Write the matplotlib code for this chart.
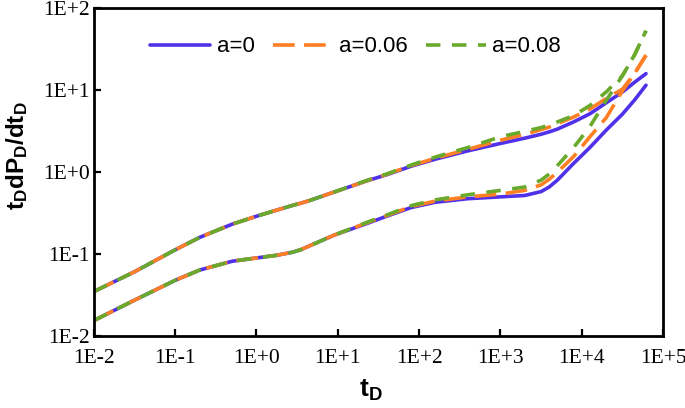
import matplotlib
matplotlib.use("Agg")
import matplotlib.pyplot as plt
import numpy as np
from matplotlib.ticker import FixedLocator, FuncFormatter, NullLocator

# ---- data ----
log_t = [-2, -1.5, -1, -0.7, -0.3, 0, 0.25, 0.45, 0.55, 0.65, 0.95, 1.35, 1.6, 1.9, 2.2, 2.6,
         3.0, 3.3, 3.5, 3.6, 3.7, 3.9, 4.1, 4.3, 4.5, 4.65, 4.79]

upper_a0 = [0.035, 0.061, 0.113, 0.16, 0.232, 0.29, 0.345, 0.395, 0.42, 0.45, 0.57, 0.78, 0.93, 1.18, 1.44, 1.82,
            2.24, 2.6, 2.9, 3.1, 3.35, 4.1, 5.15, 7.0, 9.5, 12.5, 15.9]
upper_a006 = [0.035, 0.061, 0.113, 0.16, 0.232, 0.29, 0.345, 0.395, 0.42, 0.45, 0.57, 0.78, 0.94, 1.2, 1.48, 1.9,
              2.45, 2.9, 3.3, 3.55, 3.9, 4.7, 5.9, 7.9, 10.3, 16.0, 26.7]
upper_a008 = [0.035, 0.061, 0.113, 0.16, 0.232, 0.29, 0.345, 0.395, 0.42, 0.45, 0.57, 0.79, 0.95, 1.22, 1.53, 2.0,
              2.7, 3.15, 3.5, 3.75, 4.1, 4.9, 6.5, 9.5, 15.0, 27.0, 53.0]

lower_a0 = [0.0155, 0.0275, 0.048, 0.064, 0.082, 0.09, 0.097, 0.106, 0.114, 0.126, 0.17, 0.235, 0.29, 0.37, 0.43, 0.475,
            0.50, 0.52, 0.58, 0.66, 0.80, 1.28, 2.0, 3.25, 5.1, 7.6, 11.5]
lower_a006 = [0.0155, 0.0275, 0.048, 0.064, 0.082, 0.09, 0.097, 0.106, 0.114, 0.126, 0.17, 0.24, 0.295, 0.38, 0.445, 0.5,
              0.54, 0.6, 0.7, 0.82, 1.0, 1.55, 2.7, 4.6, 9.8, 16.0, 26.7]
lower_a008 = [0.0155, 0.0275, 0.048, 0.064, 0.082, 0.09, 0.097, 0.106, 0.114, 0.126, 0.17, 0.243, 0.30, 0.39, 0.46, 0.53,
              0.6, 0.66, 0.8, 0.95, 1.2, 2.0, 3.6, 7.5, 15.0, 27.0, 53.0]

labels = ["a=0", "a=0.06", "a=0.08"]
y_tick_exps = [-2, -1, 0, 1, 2]
x_tick_exps = [-2, -1, 0, 1, 2, 3, 4, 5]

# ---- styling ----
plt.rcParams["mathtext.fontset"] = "custom"
plt.rcParams["mathtext.bf"] = "Liberation Sans:bold"
plt.rcParams["mathtext.rm"] = "Liberation Sans:bold"
plt.rcParams["mathtext.it"] = "Liberation Sans:bold"
plt.rcParams["mathtext.default"] = "bf"

t = np.power(10.0, log_t)
c_blue = "#5030E8"
c_orange = "#FF8024"
c_green = "#69AA2C"

fig = plt.figure(figsize=(6.85, 4.08), dpi=100)
ax = fig.add_axes([0.137, 0.176, 0.831, 0.804])

lw = 2.6
l0, = ax.plot(t, upper_a0, color=c_blue, lw=lw, solid_capstyle="round")
ax.plot(t, lower_a0, color=c_blue, lw=lw, solid_capstyle="round")
l1, = ax.plot(t, upper_a006, color=c_orange, lw=lw, dashes=(6, 2.6))
ax.plot(t, lower_a006, color=c_orange, lw=lw, dashes=(6, 2.6))
l2, = ax.plot(t, upper_a008, color=c_green, lw=lw, dashes=(4, 3.2))
ax.plot(t, lower_a008, color=c_green, lw=lw, dashes=(4, 3.2))

ax.set_xscale("log")
ax.set_yscale("log")
ax.set_xlim(1e-2, 1e5)
ax.set_ylim(1e-2, 1e2)

ax.xaxis.set_major_locator(FixedLocator([10.0 ** e for e in x_tick_exps]))
ax.yaxis.set_major_locator(FixedLocator([10.0 ** e for e in y_tick_exps]))
ax.xaxis.set_minor_locator(NullLocator())
ax.yaxis.set_minor_locator(NullLocator())


def sci(v, p):
    e = int(round(np.log10(v)))
    return "1E+%d" % e if e >= 0 else "1E-%d" % abs(e)


fmt = FuncFormatter(sci)
ax.xaxis.set_major_formatter(fmt)
ax.yaxis.set_major_formatter(fmt)

ax.tick_params(axis="both", which="major", direction="in", length=5, width=1.6,
               labelsize=15.5, top=False, right=False)
for lab in ax.get_xticklabels() + ax.get_yticklabels():
    lab.set_fontfamily("Liberation Serif")
ax.tick_params(axis="x", pad=9)
ax.tick_params(axis="y", pad=3)

for s in ax.spines.values():
    s.set_linewidth(2.0)
    s.set_color("black")

ax.set_xlabel(r"$t_D$", fontsize=19)
ax.xaxis.set_label_coords(0.487, -0.125)
ax.set_ylabel(r"$t_DdP_D/dt_D$", fontsize=17.5)
ax.yaxis.set_label_coords(-0.112, 0.549)

leg = ax.legend([l0, l1, l2], labels, loc="upper center", bbox_to_anchor=(0.46, 0.975),
                ncol=3, frameon=False, handlelength=2.7,
                handletextpad=0.3, columnspacing=0.8,
                prop={"family": "Liberation Sans", "size": 16})

fig.savefig("out.png", dpi=100)
